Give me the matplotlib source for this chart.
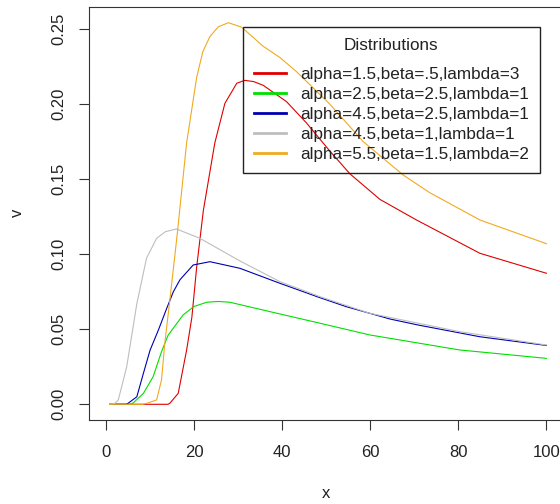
import matplotlib.pyplot as plt
from matplotlib.lines import Line2D

plt.rcParams['font.family'] = ['Liberation Sans', 'DejaVu Sans']

# valores
x_red = [0.9, 8.5, 14.1, 14.5, 16.4, 18.3, 19.5, 20.6, 22.1, 24.7, 27.0, 29.7, 31.5, 33.5,
         35.7, 41.0, 45.5, 50.8, 55.4, 62.2, 70.5, 84.9, 100]
y_red = [0, 0, 0, 0.0007, 0.0073, 0.036, 0.058, 0.0917, 0.129, 0.174, 0.2005, 0.2139, 0.2158, 0.2150,
         0.2125, 0.2016, 0.1875, 0.1688, 0.1535, 0.1365, 0.1228, 0.1006, 0.0873]

x_green = [0.9, 5.4, 6.2, 8.5, 10.7, 12.6, 14.1, 17.5, 20.0, 22.9, 25.5, 28.1,
           38.0, 48.6, 59.9, 80.3, 100]
y_green = [0, 0, 0.001, 0.0073, 0.0184, 0.035, 0.046, 0.0595, 0.0652, 0.068, 0.0685, 0.068,
           0.0612, 0.054, 0.0462, 0.0362, 0.0306]

x_blue = [0.9, 4.7, 7.0, 8.5, 10.0, 11.9, 13.8, 15.3, 16.8, 19.8, 23.6, 30.4,
          39.5, 48.6, 54.6, 64.5, 70.9, 84.9, 100]
y_blue = [0, 0, 0.005, 0.0207, 0.036, 0.0495, 0.064, 0.075, 0.083, 0.0928, 0.095, 0.0906,
          0.0806, 0.071, 0.065, 0.0568, 0.0528, 0.045, 0.0392]

x_gray = [0.9, 2.0, 2.8, 4.7, 7.0, 9.2, 11.5, 13.5, 16.0, 21.3, 30.4,
          39.5, 48.6, 59.9, 80.3, 100]
y_gray = [0, 0.0005, 0.003, 0.025, 0.067, 0.0973, 0.1106, 0.115, 0.1168, 0.1106, 0.0955,
          0.0817, 0.0717, 0.0606, 0.0484, 0.0395]

x_orange = [0.9, 8.4, 9.5, 11.5, 12.6, 13.4, 14.5, 16.2, 18.3, 20.6, 22.0, 23.6, 25.5, 27.8, 30.8,
            35.7, 39.5, 43.3, 50.8, 58.4, 67.5, 73.5, 84.9, 100]
y_orange = [0, 0, 0.0009, 0.0029, 0.0162, 0.042, 0.0695, 0.114, 0.174, 0.218, 0.235, 0.245, 0.2515,
            0.2542, 0.2512, 0.2385, 0.231, 0.2215, 0.2, 0.175, 0.1527, 0.141, 0.1228, 0.107]

etiquetas = ['alpha=1.5,beta=.5,lambda=3', 'alpha=2.5,beta=2.5,lambda=1',
             'alpha=4.5,beta=2.5,lambda=1', 'alpha=4.5,beta=1,lambda=1',
             'alpha=5.5,beta=1.5,lambda=2']
colores = ['#e00000', '#00e000', '#0000b0', '#bebebe', '#f0aa20']

fig = plt.figure(figsize=(5.6, 5.04), dpi=100)
ax = fig.add_axes([89/560, 1-420/504, (564-89)/560, (420-6.5)/504])

series = [(x_red, y_red), (x_green, y_green), (x_blue, y_blue), (x_gray, y_gray), (x_orange, y_orange)]
for (xs, ys), c in zip(series, colores):
    ax.plot(xs, ys, color=c, linewidth=0.8)

ax.set_xlim(-3.86, 104.0)
ax.set_ylim(-0.01046, 0.265)
ax.set_xticks([0, 20, 40, 60, 80, 100])
ax.set_yticks([0.00, 0.05, 0.10, 0.15, 0.20, 0.25])
ax.set_yticklabels(['0.00', '0.05', '0.10', '0.15', '0.20', '0.25'], rotation=90, va='center')

for s in ax.spines.values():
    s.set_color('#333333')
    s.set_linewidth(0.8)
ax.tick_params(direction='out', length=7.2, width=0.8, color='#333333',
               labelsize=12, labelcolor='#222222')
ax.tick_params(axis='x', pad=11)
ax.tick_params(axis='y', pad=9)

fig.text(326/560, 1-493/504, 'x', ha='center', va='center', fontsize=12, color='#222222')
fig.text(17/560, 1-213/504, 'v', ha='center', va='center', rotation=90, fontsize=12, color='#222222')

handles = [Line2D([0], [0], color=c, linewidth=2) for c in colores]
leg = ax.legend(handles, etiquetas, title='Distributions', loc='upper right',
                bbox_to_anchor=(540/560, 1-27.3/504), bbox_transform=fig.transFigure,
                borderaxespad=0, fancybox=False, framealpha=1, facecolor='none',
                edgecolor='#222222', fontsize=12.3, title_fontsize=12.3,
                handlelength=1.9, handletextpad=0.8, labelspacing=0.3, borderpad=0.65)
leg._legend_box.sep = 9.6  # espacio extra bajo el titulo
leg.get_frame().set_linewidth(1.0)
for t in leg.get_texts():
    t.set_color('#222222')
leg.get_title().set_color('#222222')

fig.savefig('out.png', dpi=100)
